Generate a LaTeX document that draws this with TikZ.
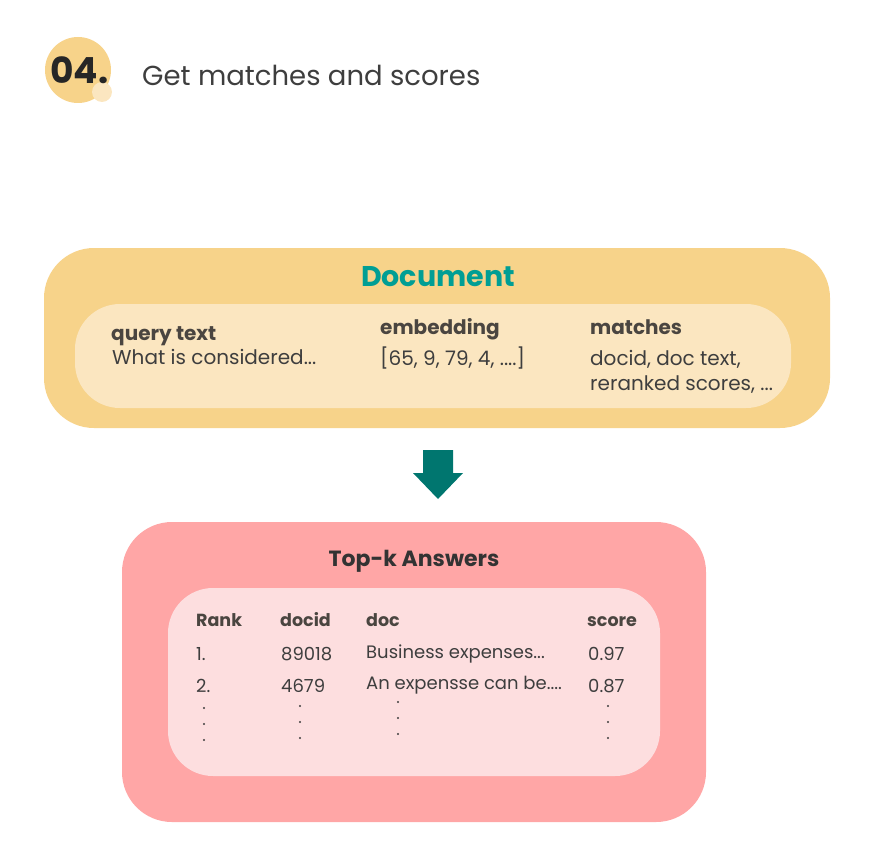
\documentclass[tikz,border=0pt]{standalone}
\usepackage{fontspec}
\setmainfont{Poppins}
\definecolor{ylw}{HTML}{F7D38A}
\definecolor{ylwlt}{HTML}{FBE6C0}
\definecolor{pnk}{HTML}{FFA6A6}
\definecolor{pnklt}{HTML}{FDDEDF}
\definecolor{teal}{HTML}{009E94}
\definecolor{arrowc}{HTML}{00766F}
\definecolor{txt}{HTML}{3E3E3E}
\definecolor{hdr}{HTML}{4A4540}
\tikzset{
  lbl/.style={anchor=base west, inner sep=0pt, text=txt, font=\fontsize{18}{21}\selectfont},
  hlbl/.style={lbl, font=\fontsize{17.5}{20}\selectfont\bfseries, text=hdr},
  dlbl/.style={lbl, font=\fontsize{20}{24}\selectfont},
  dhlbl/.style={dlbl, font=\fontsize{20}{24}\selectfont\bfseries, text=hdr},
  dotc/.style={circle, fill=txt, inner sep=0pt, minimum size=2.2pt},
}
\begin{document}
\begin{tikzpicture}[x=1pt,y=-1pt]
\useasboundingbox (0,0) rectangle (874,856);
% header badge
\fill[ylw] (78,70) circle (33);
\fill[ylwlt] (102,92) circle (10);
\node[anchor=base west, inner sep=0pt, text=black!85, font=\fontsize{36}{40}\selectfont\bfseries] (num) at (50,84) {04.};
\node[anchor=base west, inner sep=0pt, text=txt, font=\fontsize{27.5}{32}\selectfont] (title) at (142,85) {Get matches and scores};
% document box
\fill[ylw, rounded corners=50] (44,248) rectangle (830,428);
\fill[ylwlt, rounded corners=45] (75,304) rectangle (791,408);
\node[anchor=base, inner sep=0pt, text=teal, font=\fontsize{28.5}{32}\selectfont\bfseries] (doc) at (438,286) {Document};
\node[dhlbl] (qt) at (111,340) {query text};
\node[dlbl] (qv) at (112,364) {What is considered...};
\node[dhlbl] (em) at (380,334) {embedding};
\node[dlbl] (ev) at (380,365) {[65, 9, 79, 4, ....]};
\node[dhlbl] (ma) at (590,334) {matches};
\node[dlbl] (mv1) at (590,365) {docid, doc text,};
\node[dlbl] (mv2) at (590,390) {reranked scores, ...};
% arrow
\fill[arrowc] (423,450) -- (453,450) -- (453,473) -- (463,473) -- (438,499) -- (413,473) -- (423,473) -- cycle;
% top-k box
\fill[pnk, rounded corners=50] (122,522) rectangle (706,822);
\fill[pnklt, rounded corners=45] (168,588) rectangle (660,776);
\node[anchor=base, inner sep=0pt, text=black!80, font=\fontsize{22}{26}\selectfont\bfseries] (topk) at (414,566) {Top-k Answers};
\node[hlbl] (h1) at (196,626) {Rank};
\node[hlbl] (h2) at (280,626) {docid};
\node[hlbl] (h3) at (366,626) {doc};
\node[hlbl] (h4) at (587,626) {score};
\node[lbl] (r11) at (196,660) {1.};
\node[lbl] (r12) at (281,660) {89018};
\node[lbl] (r13) at (366,658) {Business expenses...};
\node[lbl] (r14) at (588,660) {0.97};
\node[lbl] (r21) at (196,692) {2.};
\node[lbl] (r22) at (281,692) {4679};
\node[lbl] (r23) at (366,689) {An expensse can be....};
\node[lbl] (r24) at (588,692) {0.87};
\foreach \y in {708,724,740} \node[dotc] at (204,\y) {};
\foreach \y in {706,722,738} \node[dotc] at (300,\y) {};
\foreach \y in {702,718,734} \node[dotc] at (398,\y) {};
\foreach \y in {706,722,738} \node[dotc] at (608,\y) {};
\end{tikzpicture}
\end{document}
